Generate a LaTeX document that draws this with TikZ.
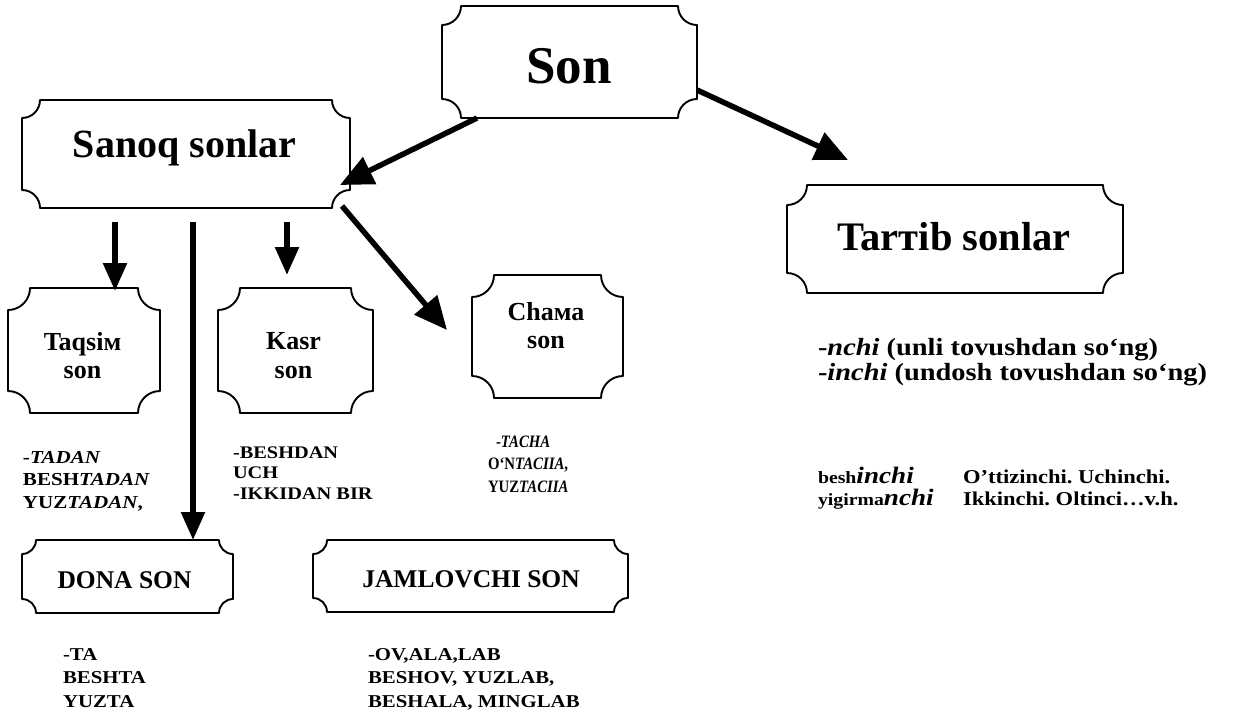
\documentclass[tikz,border=0pt]{standalone}
\usepackage{fontspec}
\setmainfont{Liberation Serif}
\newfontfamily\widefont{Liberation Serif}[FakeStretch=1.15]
\newfontfamily\narrowfont{Liberation Serif}[FakeStretch=0.85]
\usetikzlibrary{arrows.meta,calc}
\frenchspacing
\newcommand\fs[2]{\fontsize{#1}{#2}\selectfont\bfseries}
\newcommand\ws[2]{\widefont\fontsize{#1}{#2}\selectfont\bfseries}
\newcommand\ns[2]{\narrowfont\fontsize{#1}{#2}\selectfont\bfseries}
\newcommand\ticketframe[2]{%
  \draw[tk] ($(#1.north west)+(#2pt,0pt)$) -- ($(#1.north east)+(-#2pt,0pt)$)
    arc[start angle=180,end angle=270,radius=#2pt]
    -- ($(#1.south east)+(0pt,#2pt)$)
    arc[start angle=90,end angle=180,radius=#2pt]
    -- ($(#1.south west)+(#2pt,0pt)$)
    arc[start angle=0,end angle=90,radius=#2pt]
    -- ($(#1.north west)+(0pt,-#2pt)$)
    arc[start angle=270,end angle=360,radius=#2pt] -- cycle;}
\tikzset{
  tk/.style={line width=1.9pt, line join=round},
  box/.style={rectangle, inner sep=0pt, outer sep=0pt},
  txt/.style={inner sep=0pt, outer sep=0pt},
  arr/.style={line width=5.5pt, -{Triangle[length=28pt,width=23pt]}},
  darr/.style={line width=5.5pt, -{Triangle[length=33pt,width=29pt]}},
}
\begin{document}
\begin{tikzpicture}[x=1pt,y=1pt]
\useasboundingbox (0,0) rectangle (1233,-710);
% boxes
\node[box, minimum width=255pt, minimum height=112pt] (son) at (569.5,-62) {};
\node[box, minimum width=328pt, minimum height=108pt] (sanoq) at (186,-154) {};
\node[box, minimum width=336pt, minimum height=108pt] (tartib) at (955,-239) {};
\node[box, minimum width=152pt, minimum height=125pt] (taqsim) at (84,-350.5) {};
\node[box, minimum width=155pt, minimum height=125pt] (kasr) at (295.5,-350.5) {};
\node[box, minimum width=151pt, minimum height=123pt] (chama) at (547.5,-336.5) {};
\node[box, minimum width=211pt, minimum height=73pt] (dona) at (127.5,-576.5) {};
\node[box, minimum width=315pt, minimum height=72pt] (jamlov) at (470.5,-576) {};
\ticketframe{son}{19}
\ticketframe{sanoq}{18}
\ticketframe{tartib}{20}
\ticketframe{taqsim}{22}
\ticketframe{kasr}{22}
\ticketframe{chama}{22}
\ticketframe{dona}{14}
\ticketframe{jamlov}{14}
% box texts
\node[txt, anchor=base] (sontxt) at (569,-83) {\fs{53}{56}Son};
\node[txt, anchor=base] (sanoqtxt) at (184.5,-157) {\fs{40}{44}Sanoq sonlar};
\node[txt, anchor=base] (tartibtxt) at (954,-250) {\fs{40.5}{44}Tarтib sonlar};
\node[txt, anchor=base] (taqsimtxt) at (82.5,-350) {\fs{26}{28}\begin{tabular}[t]{@{}c@{}}Taqsiм\\ son\end{tabular}};
\node[txt, anchor=base] (kasrtxt) at (293.5,-349) {\fs{26}{29}\begin{tabular}[t]{@{}c@{}}Kasr\\ son\end{tabular}};
\node[txt, anchor=base] (chamatxt) at (546,-320) {\fs{26}{28}\begin{tabular}[t]{@{}c@{}}Chaмa\\ son\end{tabular}};
\node[txt, anchor=base] (donatxt) at (124.5,-588) {\fs{25.5}{28}DONA SON};
\node[txt, anchor=base] (jamlovtxt) at (471,-587) {\fs{25.5}{28}JAMLOVCHI SON};
% arrows
\draw[darr] ([xshift=35pt]son.south west) -- ([xshift=-10pt,yshift=23pt]sanoq.south east);
\draw[darr] ([yshift=-28pt]son.east) -- ([xshift=61pt,yshift=25pt]tartib.north west);
\draw[darr] ([xshift=-8pt,yshift=2pt]sanoq.south east) -- ([xshift=-25pt,yshift=-55pt]chama.north west);
\draw[arr] ([xshift=93pt,yshift=-14pt]sanoq.south west) -- ([xshift=31pt,yshift=-3pt]taqsim.north);
\draw[arr] ([xshift=171pt,yshift=-14pt]sanoq.south west) -- ([xshift=65.5pt]dona.north);
\draw[arr] ([xshift=265pt,yshift=-14pt]sanoq.south west) -- ([xshift=-8.5pt,yshift=13pt]kasr.north);
% free texts
\node[txt, anchor=base west] (tadan) at (23,-463) {\ws{18.3}{22.5}\begin{tabular}[t]{@{}l@{}}-\textit{TADAN}\\ BESH\textit{TADAN}\\ YUZ\textit{TADAN},\end{tabular}};
\node[txt, anchor=base west] (beshdan) at (233,-458) {\ws{17.7}{20.5}\begin{tabular}[t]{@{}l@{}}-BESHDAN\\ UCH\\ -IKKIDAN BIR\end{tabular}};
\node[txt, anchor=base west] (tacha) at (488,-447) {\ns{17.4}{22.5}\begin{tabular}[t]{@{}l@{}}\hspace{8pt}-\textit{TACHA}\\ O‘N\textit{TACIIA},\\ YUZ\textit{TACIIA}\end{tabular}};
\node[txt, anchor=base west] (nchi) at (818,-355) {\ws{24.7}{25}\begin{tabular}[t]{@{}l@{}}-\textit{nchi} (unli tovushdan so‘ng)\\ -\textit{inchi} (undosh tovushdan so‘ng)\end{tabular}};
\node[txt, anchor=base west] (misol) at (818,-483) {\ws{19.6}{20}\begin{tabular}[t]{@{}p{145pt}@{}l@{}}{\fontsize{17.2}{20}\selectfont besh}{\fontsize{23.6}{20}\selectfont\textit{inchi}} & O’ttizinchi. Uchinchi.\\ {\fontsize{17.2}{20}\selectfont yigirma}{\fontsize{23.6}{20}\selectfont\textit{nchi}} & Ikkinchi. Oltinci…v.h.\end{tabular}};
\node[txt, anchor=base west] (ta) at (63,-660) {\ws{18.1}{23.5}\begin{tabular}[t]{@{}l@{}}-TA\\ BESHTA\\ YUZTA\end{tabular}};
\node[txt, anchor=base west] (ov) at (368,-660) {\ws{18.1}{23.5}\begin{tabular}[t]{@{}l@{}}-OV,ALA,LAB\\ BESHOV, YUZLAB,\\ BESHALA, MINGLAB\end{tabular}};
\end{tikzpicture}
\end{document}
